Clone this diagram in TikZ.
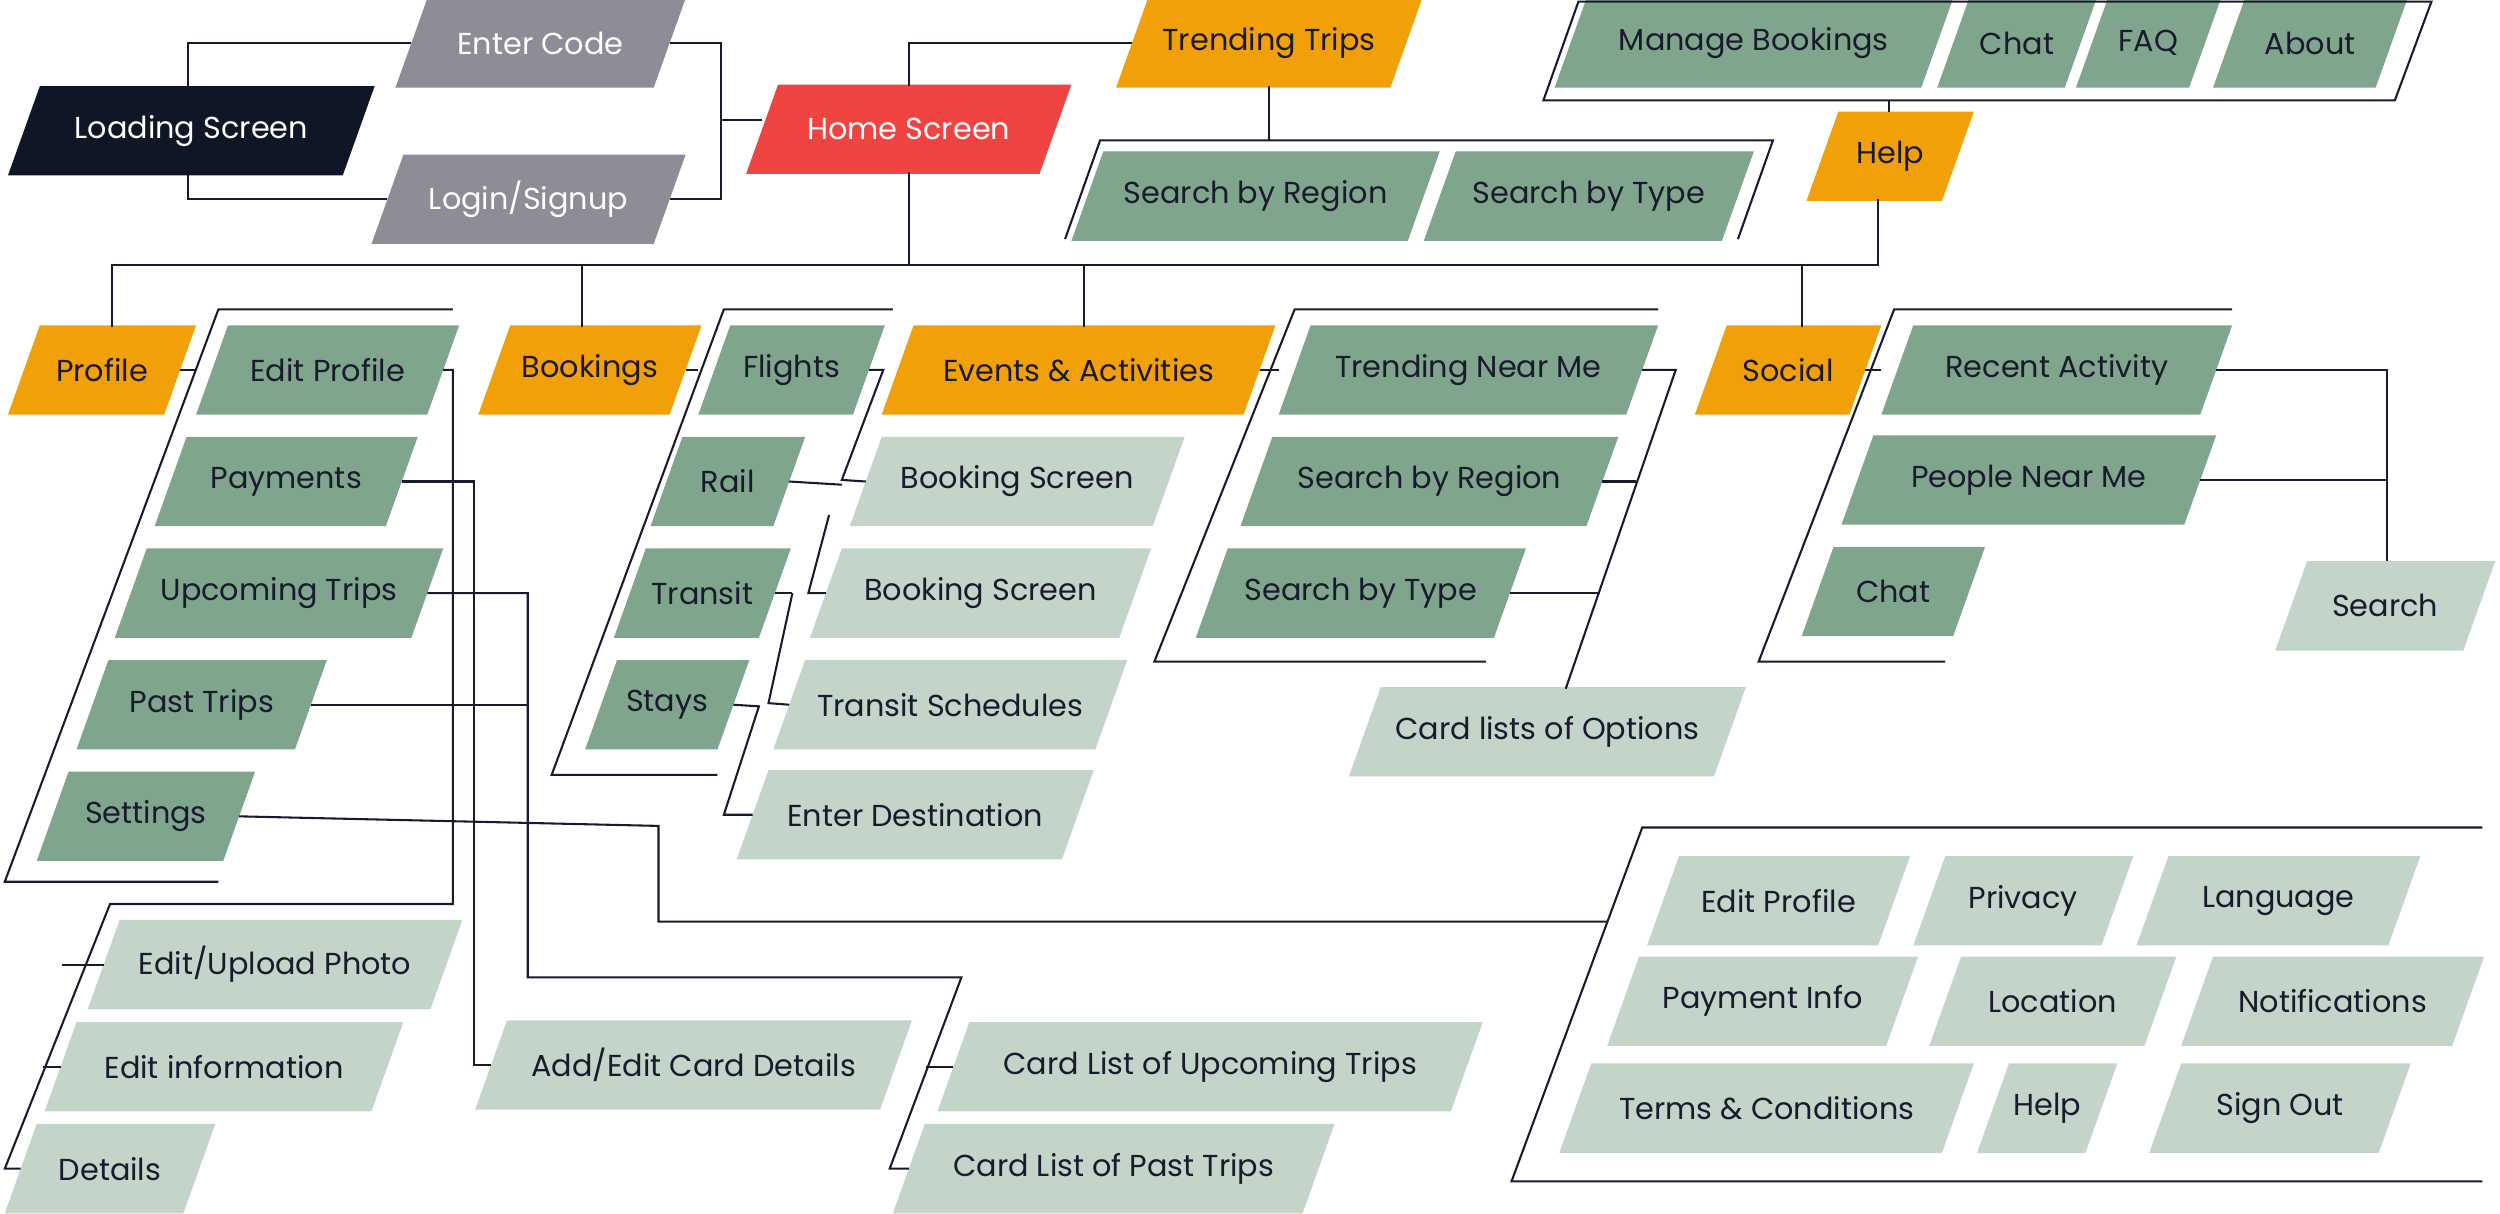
\documentclass[tikz,border=0pt]{standalone}
\usepackage{fontspec}
\setmainfont{Poppins}
\definecolor{navy}{HTML}{0F1626}
\definecolor{gry}{HTML}{8C8D96}
\definecolor{rd}{HTML}{F04443}
\definecolor{org}{HTML}{F2A007}
\definecolor{grn}{HTML}{7FA68C}
\definecolor{lgr}{HTML}{C2D5C8}
\definecolor{ink}{HTML}{1A1A2E}
\tikzset{
 txt/.style={inner sep=0pt,font=\fontsize{19}{19}\selectfont,text=ink},
 wtxt/.style={txt,text=white},
 ln/.style={draw=ink,line width=1.3pt},
}
\newcommand\pbox[7]{%
 \fill[#5] (#2-10,#4+28) -- (#3-10,#4+28) -- (#3+10,#4-28) -- (#2+10,#4-28) -- cycle;
 \node[#6] (#1) at ({(#2+#3)/2},#4) {#7};
 \coordinate (#1-e) at (#3,#4);
 \coordinate (#1-w) at (#2,#4);
 \coordinate (#1-n) at ({(#2+#3)/2},#4-28);
 \coordinate (#1-s) at ({(#2+#3)/2},#4+28);
}
\begin{document}
\begin{tikzpicture}[x=1pt,y=-1pt]
\useasboundingbox (0,0) rectangle (1568,761);
\pbox{load}{15}{225}{82}{navy}{wtxt}{Loading Screen}
\pbox{code}{258}{420}{27}{gry}{wtxt}{Enter Code}
\pbox{login}{243}{420}{125}{gry}{wtxt}{Login/Signup}
\pbox{home}{478}{662}{81}{rd}{wtxt}{Home Screen}
\pbox{trend}{710}{882}{27}{org}{txt}{Trending Trips}
\pbox{sreg}{682}{893}{123}{grn}{txt}{Search by Region}
\pbox{stype}{903}{1090}{123}{grn}{txt}{Search by Type}
\pbox{manage}{985}{1215}{27}{grn}{txt}{Manage Bookings}
\pbox{chat}{1225}{1305}{27}{grn}{txt}{Chat}
\pbox{faq}{1312}{1383}{27}{grn}{txt}{FAQ}
\pbox{about}{1398}{1500}{27}{grn}{txt}{About}
\pbox{help}{1143}{1228}{98}{org}{txt}{Help}
\pbox{profile}{15}{113}{232}{org}{txt}{Profile}
\pbox{editp}{133}{278}{232}{grn}{txt}{Edit Profile}
\pbox{bookings}{310}{430}{232}{org}{txt}{Bookings}
\pbox{flights}{448}{545}{232}{grn}{txt}{Flights}
\pbox{events}{563}{790}{232}{org}{txt}{Events \& Activities}
\pbox{tnm}{812}{1030}{232}{grn}{txt}{Trending Near Me}
\pbox{social}{1073}{1170}{232}{org}{txt}{Social}
\pbox{recent}{1190}{1390}{232}{grn}{txt}{Recent Activity}
\pbox{pay}{107}{252}{302}{grn}{txt}{Payments}
\pbox{rail}{418}{495}{302}{grn}{txt}{Rail}
\pbox{bsa}{543}{733}{302}{lgr}{txt}{Booking Screen}
\pbox{esreg}{788}{1005}{302}{grn}{txt}{Search by Region}
\pbox{pnm}{1165}{1380}{301}{grn}{txt}{People Near Me}
\pbox{up}{82}{268}{372}{grn}{txt}{Upcoming Trips}
\pbox{transit}{395}{486}{372}{grn}{txt}{Transit}
\pbox{bsb}{518}{712}{372}{lgr}{txt}{Booking Screen}
\pbox{estype}{760}{947}{372}{grn}{txt}{Search by Type}
\pbox{schat}{1140}{1235}{371}{grn}{txt}{Chat}
\pbox{search}{1437}{1555}{380}{lgr}{txt}{Search}
\pbox{past}{58}{195}{442}{grn}{txt}{Past Trips}
\pbox{stays}{377}{460}{442}{grn}{txt}{Stays}
\pbox{ts}{495}{697}{442}{lgr}{txt}{Transit Schedules}
\pbox{cards}{856}{1085}{459}{lgr}{txt}{Card lists of Options}
\pbox{settings}{33}{150}{512}{grn}{txt}{Settings}
\pbox{ed}{472}{676}{511}{lgr}{txt}{Enter Destination}
\pbox{sa}{1043}{1188}{565}{lgr}{txt}{Edit Profile}
\pbox{sb}{1210}{1328}{565}{lgr}{txt}{Privacy}
\pbox{sc}{1350}{1508}{565}{lgr}{txt}{Language}
\pbox{sd}{1018}{1193}{628}{lgr}{txt}{Payment Info}
\pbox{sf}{1220}{1355}{628}{lgr}{txt}{Location}
\pbox{sg}{1378}{1548}{628}{lgr}{txt}{Notifications}
\pbox{sh}{988}{1228}{695}{lgr}{txt}{Terms \& Conditions}
\pbox{si}{1250}{1318}{695}{lgr}{txt}{Help}
\pbox{sj}{1358}{1502}{695}{lgr}{txt}{Sign Out}
\pbox{photo}{65}{280}{605}{lgr}{txt}{Edit/Upload Photo}
\pbox{info}{38}{243}{669}{lgr}{txt}{Edit information}
\pbox{card}{308}{562}{668}{lgr}{txt}{Add/Edit Card Details}
\pbox{cup}{598}{920}{669}{lgr}{txt}{Card List of Upcoming Trips}
\pbox{details}{13}{125}{733}{lgr}{txt}{Details}
\pbox{cpast}{570}{827}{733}{lgr}{txt}{Card List of Past Trips}

% group brackets
\coordinate (gtr) at (1185,63);
\draw[ln] (968,63) -- (990,1) -- (1525,1) -- (1502,63) -- cycle;
\draw[ln] (668,150) -- (690,88) -- (1112,88) -- (1090,150);
\draw[ln] (284,194) -- (137,194) -- (3,553) -- (137,553);
\draw[ln] (560,194) -- (454,194) -- (346,486) -- (450,486);
\draw[ln] (1040,194) -- (812,194) -- (724,415) -- (932,415);
\draw[ln] (1400,194) -- (1188,194) -- (1103,415) -- (1220,415);
\draw[ln] (1557,519) -- (1030,519) -- (948,741) -- (1557,741);

% top connectors
\draw[ln] (load-n -| 118,0) ++(0,0);
\draw[ln] (118,56) |- (code-w);
\draw[ln] (118,110) |- (login-w);
\draw[ln] (code-e) -| (452,125) -- (login-e);
\draw[ln] (452,75) -- (478,75);
\draw[ln] (570,54) |- (trend-w);
\draw[ln] (trend-s -| 796,0) ++(0,0);
\draw[ln] (796,54) -- (796,88);
\draw[ln] (help-n -| gtr) -- (gtr);
\draw[ln] (570,108) -- (570,166);
\draw[ln] (70,205) |- (1178,166) -- (1178,125);
\draw[ln] (365,166) -- (365,205);
\draw[ln] (680,166) -- (680,205);
\draw[ln] (1130,166) -- (1130,205);

% profile
\draw[ln] (profile-e) -- (123,232);
\draw[ln] (editp-e) -- (284,232) -- (284,567) -- (69,567) -- (3,733) -- (details-w);
\draw[ln] (39,605) -- (photo-w);
\draw[ln] (27,669) -- (info-w);
\draw[ln] (pay-e) -- (297,302) |- (card-w);
\draw[ln] (up-e) -- (331,372) -- (331,613) -- (603,613) -- (558,733) -- (cpast-w);
\draw[ln] (past-e) -- (331,442);
\draw[ln] (581,669) -- (cup-w);
\draw[ln] (settings-e) -- (413,518) -- (413,578) -- (1008,578);

% bookings
\draw[ln] (bookings-e) -- (438,232);
\draw[ln] (flights-e) -- (554,232) -- (528,301) -- (bsa-w);
\draw[ln] (rail-e) -- (528,304);
\draw[ln] (transit-e) -- (497,372);
\draw[ln] (520,323) -- (507,372) -- (bsb-w);
\draw[ln] (497,372) -- (482,441) -- (ts-w);
\draw[ln] (stays-e) -- (476,443) -- (454,511) -- (ed-w);

% events
\draw[ln] (events-e) -- (802,232);
\draw[ln] (tnm-e) -- (1051,232) -- (982,432);
\draw[ln] (esreg-e) -- (1026,302);
\draw[ln] (estype-e) -- (1002,372);

% social
\draw[ln] (social-e) -- (1180,232);
\draw[ln] (recent-e) -- (1497,232) -- (search-n -| 1497,0) ++(0,0);
\draw[ln] (1497,232) -- (1497,352);
\draw[ln] (pnm-e) -- (1497,301);
\end{tikzpicture}
\end{document}
